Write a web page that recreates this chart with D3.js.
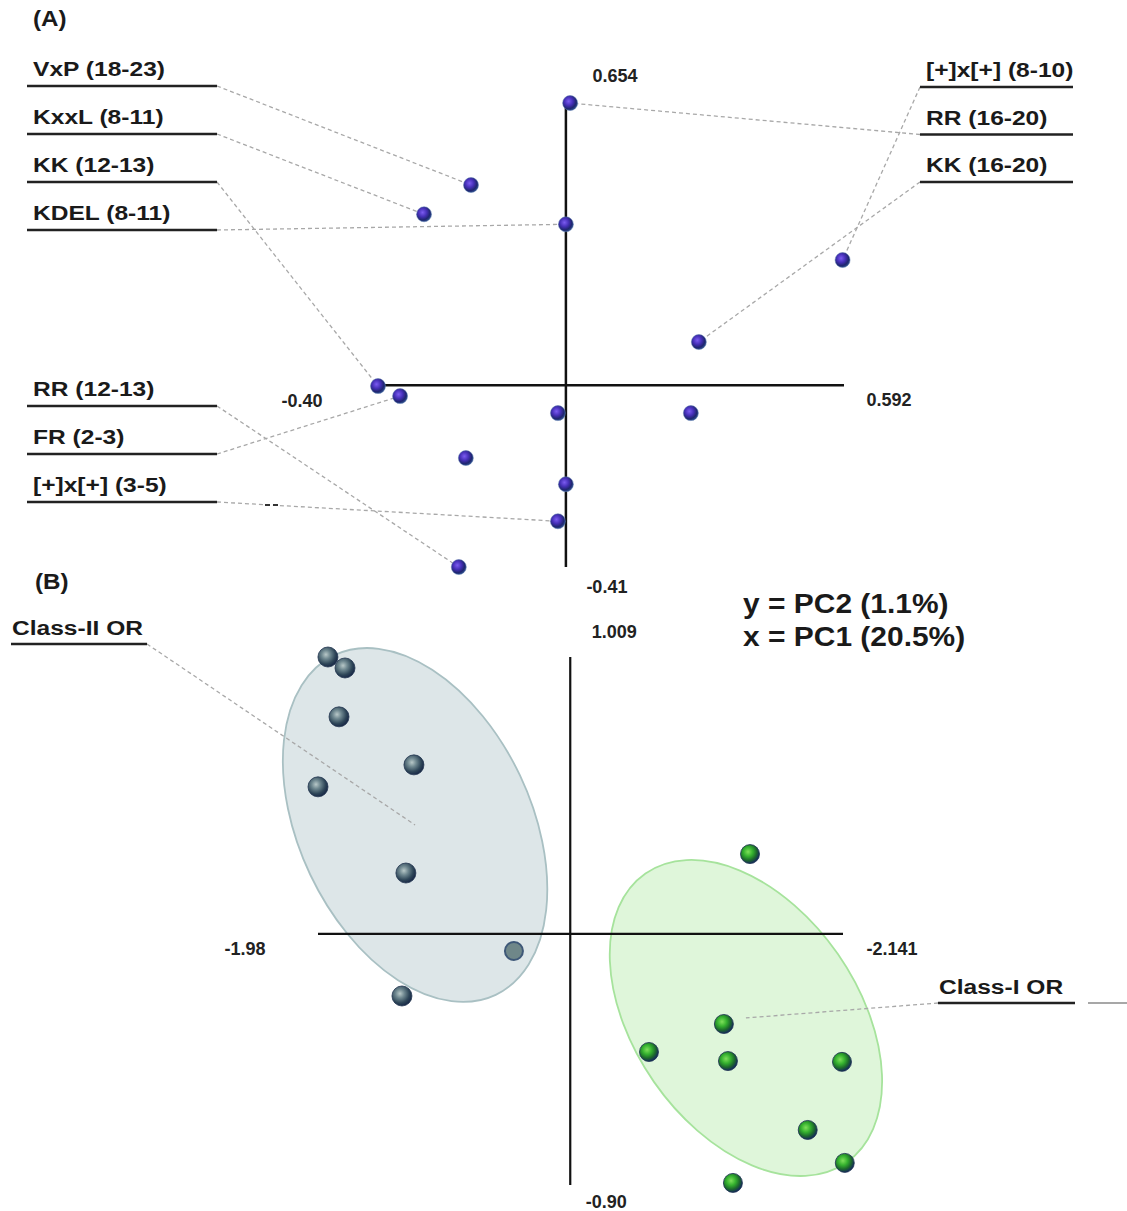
<!DOCTYPE html>
<html>
<head>
<meta charset="utf-8">
<script src="https://cdn.jsdelivr.net/npm/d3@7"></script>
<style>
  html, body { margin: 0; padding: 0; background: #ffffff; }
  svg { display: block; }
  text { font-family: "Liberation Sans", Arial, sans-serif; }
</style>
</head>
<body>
<script>
// ---------------- DATA ----------------
// Panel A: loadings (PC1, PC2)
const loadPC1 = [0.009, -0.202, -0.302, 0.000, 0.589, 0.283, -0.400, -0.353, -0.017, 0.266, -0.213, 0.000, -0.017, -0.228];
const loadPC2 = [0.647, 0.459, 0.392, 0.369, 0.287, 0.099, -0.002, -0.025, -0.064, -0.064, -0.167, -0.227, -0.312, -0.417];
// motif labels and the loading index they point to
const leftLabels   = ["VxP (18-23)", "KxxL (8-11)", "KK (12-13)", "KDEL (8-11)"];
const leftTargets  = [1, 2, 6, 3];
const left2Labels  = ["RR (12-13)", "FR (2-3)", "[+]x[+] (3-5)"];
const left2Targets = [13, 7, 12];
const rightLabels  = ["[+]x[+] (8-10)", "RR (16-20)", "KK (16-20)"];
const rightTargets = [4, 0, 5];
// Panel A axis extents / tick labels
const aXDomain = [-0.40, 0.592];
const aYDomain = [-0.41, 0.654];
const aTickLabels = ["0.654", "0.592", "-0.40", "-0.41"];

// Panel B: scores (PC1, PC2)
const class2PC1 = [-1.902, -1.768, -1.815, -1.227, -1.980, -1.290, -0.442, -1.321];
const class2PC2 = [1.009, 0.969, 0.791, 0.616, 0.536, 0.222, -0.062, -0.226];
const class1PC1 = [1.411, 1.206, 0.618, 1.238, 2.133, 1.864, 2.155, 1.277];
const class1PC2 = [0.291, -0.328, -0.430, -0.463, -0.466, -0.714, -0.834, -0.907];
const groupNames = ["Class-II OR", "Class-I OR"];
const groupCenterPC1 = [-1.218, 1.379];
const groupCenterPC2 = [0.397, -0.306];
const bXDomain = [-1.98, 2.141];
const bYDomain = [-0.90, 1.009];
const bTickLabels = ["1.009", "-1.98", "-2.141", "-0.90"];
const axisTitles = ["y = PC2 (1.1%)", "x = PC1 (20.5%)"];
const panelLetters = ["(A)", "(B)"];

// ---------------- DRAW ----------------
const W = 1127, H = 1211;
const svg = d3.select("body").append("svg").attr("width", W).attr("height", H);
const defs = svg.append("defs");

function sphere(id, stops) {
  const g = defs.append("radialGradient").attr("id", id)
    .attr("cx", "40%").attr("cy", "38%").attr("r", "62%");
  stops.forEach(s => g.append("stop").attr("offset", s[0]).attr("stop-color", s[1]));
}
sphere("gA", [["0%", "#7b5cf0"], ["45%", "#4630b8"], ["80%", "#1f2670"], ["100%", "#2c4a88"]]);
sphere("gGray", [["0%", "#b8c8c8"], ["35%", "#6f8890"], ["75%", "#2e4658"], ["100%", "#1a2a48"]]);
sphere("gGreen", [["0%", "#7ee05a"], ["40%", "#34b02e"], ["72%", "#1d6a2c"], ["100%", "#152c58"]]);

const dashStyle = sel => sel.attr("stroke", "#a8a8a8").attr("stroke-width", 1.3)
  .attr("stroke-dasharray", "4,3").attr("fill", "none");

function stretchedText(g, x, y, txt, size, sx) {
  return g.append("text")
    .attr("transform", `translate(${x},${y}) scale(${sx},1)`)
    .attr("font-size", size).attr("font-weight", "bold").attr("fill", "#1a1a1a")
    .text(txt);
}

// ===== Panel A =====
const xA = d3.scaleLinear().domain(aXDomain).range([378, 844]);
const yA = d3.scaleLinear().domain(aYDomain).range([564, 100]);
const gA = svg.append("g");

stretchedText(gA, 33, 26, panelLetters[0], 22, 1.1);

// label rows
const rowsA = [];
leftLabels.forEach((t, i) => rowsA.push({t, target: leftTargets[i], x0: 27, x1: 217, tx: 33, uy: 86 + 48 * i, side: "L"}));
left2Labels.forEach((t, i) => rowsA.push({t, target: left2Targets[i], x0: 27, x1: 217, tx: 33, uy: 406 + 48 * i, side: "L"}));
rightLabels.forEach((t, i) => rowsA.push({t, target: rightTargets[i], x0: 920, x1: 1073, tx: 926, uy: 87 + 47.5 * i, side: "R"}));

// dashed leaders (under everything)
gA.selectAll("line.lead").data(rowsA).join("line").attr("class", "lead")
  .attr("x1", d => d.side === "L" ? d.x1 : d.x0).attr("y1", d => d.uy)
  .attr("x2", d => xA(loadPC1[d.target])).attr("y2", d => yA(loadPC2[d.target]))
  .call(dashStyle);

// small stray mark
gA.append("line").attr("x1", 265).attr("x2", 280).attr("y1", 505).attr("y2", 505)
  .attr("stroke", "#333").attr("stroke-width", 2).attr("stroke-dasharray", "5,3");

// underlines + text
gA.selectAll("line.ul").data(rowsA).join("line").attr("class", "ul")
  .attr("x1", d => d.x0).attr("x2", d => d.x1).attr("y1", d => d.uy).attr("y2", d => d.uy)
  .attr("stroke", "#222").attr("stroke-width", 2.4);
rowsA.forEach(d => stretchedText(gA, d.tx, d.uy - 10, d.t, 21, 1.17));

// axes
gA.append("line").attr("x1", xA(0)).attr("x2", xA(0)).attr("y1", yA(aYDomain[1])).attr("y2", yA(aYDomain[0]) + 3)
  .attr("stroke", "#111").attr("stroke-width", 2.5);
gA.append("line").attr("x1", xA(aXDomain[0])).attr("x2", xA(aXDomain[1])).attr("y1", yA(0)).attr("y2", yA(0))
  .attr("stroke", "#111").attr("stroke-width", 2.5);

const tickStyle = sel => sel.attr("font-size", 18).attr("font-weight", "bold").attr("fill", "#222").attr("text-anchor", "middle");
gA.append("text").attr("x", xA(0) + 49).attr("y", yA(aYDomain[1]) - 18).text(aTickLabels[0]).call(tickStyle);
gA.append("text").attr("x", xA(aXDomain[1]) + 45).attr("y", yA(0) + 21).text(aTickLabels[1]).call(tickStyle);
gA.append("text").attr("x", xA(aXDomain[0]) - 76).attr("y", yA(0) + 22).text(aTickLabels[2]).call(tickStyle);
gA.append("text").attr("x", xA(0) + 41).attr("y", yA(aYDomain[0]) + 29).text(aTickLabels[3]).call(tickStyle);

// points
gA.selectAll("circle.pa").data(loadPC1.map((v, i) => [v, loadPC2[i]])).join("circle").attr("class", "pa")
  .attr("cx", d => xA(d[0])).attr("cy", d => yA(d[1])).attr("r", 7.5)
  .attr("fill", "url(#gA)").attr("stroke", "#5a7ab0").attr("stroke-opacity", 0.5).attr("stroke-width", 1);

// ===== Panel B =====
const xB = d3.scaleLinear().domain(bXDomain).range([318, 843]);
const yB = d3.scaleLinear().domain(bYDomain).range([1181, 657]);
const gB = svg.append("g");

stretchedText(gB, 35, 589, panelLetters[1], 22, 1.1);

// ellipses
const ellStyle = [
  {rx: 188, ry: 116, ang: 64.6, fill: "#dde6e8", stroke: "#a9c0c3"},
  {rx: 176, ry: 112, ang: 55.2, fill: "#dff6da", stroke: "#a6e39c"}
];
groupNames.forEach((n, i) => {
  gB.append("ellipse")
    .attr("transform", `translate(${xB(groupCenterPC1[i])},${yB(groupCenterPC2[i])}) rotate(${ellStyle[i].ang})`)
    .attr("rx", ellStyle[i].rx).attr("ry", ellStyle[i].ry)
    .attr("fill", ellStyle[i].fill).attr("stroke", ellStyle[i].stroke).attr("stroke-width", 1.8);
});

// axes
gB.append("line").attr("x1", xB(0)).attr("x2", xB(0)).attr("y1", yB(bYDomain[1])).attr("y2", yB(bYDomain[0]) + 4)
  .attr("stroke", "#111").attr("stroke-width", 2.2);
gB.append("line").attr("x1", xB(bXDomain[0])).attr("x2", xB(bXDomain[1])).attr("y1", yB(0)).attr("y2", yB(0))
  .attr("stroke", "#111").attr("stroke-width", 2.2);

gB.append("text").attr("x", xB(0) + 44).attr("y", yB(bYDomain[1]) - 19).text(bTickLabels[0]).call(tickStyle);
gB.append("text").attr("x", xB(bXDomain[0]) - 73).attr("y", yB(0) + 21).text(bTickLabels[1]).call(tickStyle);
gB.append("text").attr("x", xB(bXDomain[1]) + 49).attr("y", yB(0) + 21).text(bTickLabels[2]).call(tickStyle);
gB.append("text").attr("x", xB(0) + 36).attr("y", yB(bYDomain[0]) + 27).text(bTickLabels[3]).call(tickStyle);

// axis titles
axisTitles.forEach((t, i) => {
  gB.append("text").attr("transform", `translate(743,${613 + 33 * i}) scale(1.07,1)`)
    .attr("font-size", 28).attr("font-weight", "bold").attr("fill", "#1a1a1a").text(t);
});

// group labels with leaders
const grpLab = [
  {x0: 11, x1: 147, uy: 644, lx: 147},
  {x0: 938, x1: 1075, uy: 1003, lx: 938}
];
groupNames.forEach((n, i) => {
  const L = grpLab[i];
  gB.append("line").attr("x1", L.lx).attr("y1", L.uy)
    .attr("x2", xB(groupCenterPC1[i])).attr("y2", yB(groupCenterPC2[i])).call(dashStyle);
  gB.append("line").attr("x1", L.x0).attr("x2", L.x1).attr("y1", L.uy).attr("y2", L.uy)
    .attr("stroke", "#222").attr("stroke-width", 2.4);
  stretchedText(gB, L.x0 + 1, L.uy - 9, n, 21, 1.17);
});
gB.append("line").attr("x1", 1088).attr("x2", 1127).attr("y1", 1003).attr("y2", 1003)
  .attr("stroke", "#8a8a8a").attr("stroke-width", 1.5);

// points
const c2 = class2PC1.map((v, i) => ({x: v, y: class2PC2[i], flat: i === 6}));
const c1 = class1PC1.map((v, i) => ({x: v, y: class1PC2[i]}));
gB.selectAll("circle.c2").data(c2).join("circle").attr("class", "c2")
  .attr("cx", d => xB(d.x)).attr("cy", d => yB(d.y)).attr("r", d => d.flat ? 9 : 10)
  .attr("fill", d => d.flat ? "#6f8789" : "url(#gGray)")
  .attr("stroke", d => d.flat ? "#3e5878" : "#233650").attr("stroke-width", d => d.flat ? 2 : 0.8);
gB.selectAll("circle.c1").data(c1).join("circle").attr("class", "c1")
  .attr("cx", d => xB(d.x)).attr("cy", d => yB(d.y)).attr("r", 9.5)
  .attr("fill", "url(#gGreen)").attr("stroke", "#1a2e50").attr("stroke-width", 0.8);
</script>
</body>
</html>
